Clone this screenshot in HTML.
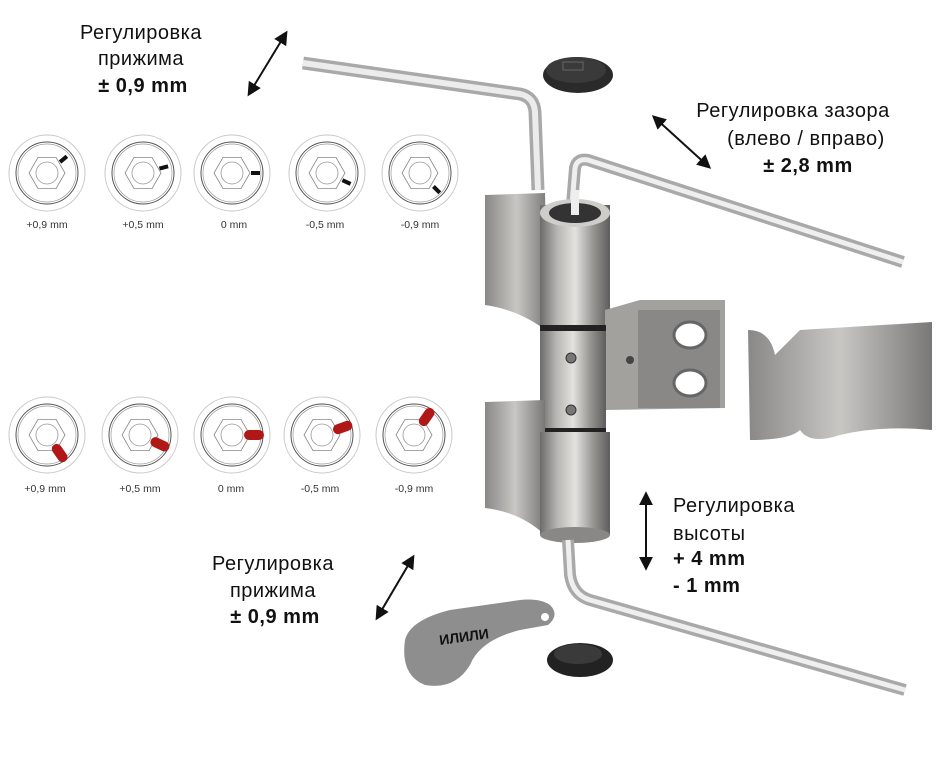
<!DOCTYPE html>
<html><head><meta charset="utf-8"><style>
html,body{margin:0;padding:0;background:#fff;width:949px;height:769px;overflow:hidden}
svg{display:block}
text{font-family:"Liberation Sans","DejaVu Sans",sans-serif;fill:#111}
.big{font-size:20px;letter-spacing:0.5px}
.b{font-weight:bold}
.sm{font-size:10.5px;fill:#333}
</style></head><body>
<svg width="949" height="769" viewBox="0 0 949 769" xmlns="http://www.w3.org/2000/svg">
<defs>
<linearGradient id="met" x1="0" x2="1" y1="0" y2="0">
<stop offset="0" stop-color="#6d6b69"/><stop offset="0.25" stop-color="#b8b6b3"/><stop offset="0.5" stop-color="#e4e2df"/><stop offset="0.75" stop-color="#9a9895"/><stop offset="1" stop-color="#5f5d5b"/>
</linearGradient>
<linearGradient id="met2" x1="0" x2="1" y1="0" y2="0">
<stop offset="0" stop-color="#8a8886"/><stop offset="0.5" stop-color="#c9c7c4"/><stop offset="1" stop-color="#7a7876"/>
</linearGradient>
<marker id="ah" viewBox="0 0 10 10" refX="8" refY="5" markerWidth="7" markerHeight="7" orient="auto-start-reverse"><path d="M0,0 L10,5 L0,10 z" fill="#111"/></marker>
<g id="dial">
<circle r="38" fill="#fff" stroke="#c8c8c8" stroke-width="1"/>
<circle r="31" fill="none" stroke="#555" stroke-width="1"/>
<circle r="29" fill="none" stroke="#999" stroke-width="0.7"/>
<polygon points="18,0 9,15.6 -9,15.6 -18,0 -9,-15.6 9,-15.6" fill="none" stroke="#888" stroke-width="0.8"/>
<circle r="11" fill="none" stroke="#999" stroke-width="0.8"/>
</g>
</defs>

<text class="big" x="141" y="39" text-anchor="middle">Регулировка</text>
<text class="big" x="141" y="65" text-anchor="middle">прижима</text>
<text class="big b" x="143" y="92" text-anchor="middle">± 0,9 mm</text>
<line x1="249" y1="94" x2="286" y2="33" stroke="#111" stroke-width="2" marker-start="url(#ah)" marker-end="url(#ah)"/>

<g transform="translate(47,173)"><use href="#dial"/><rect x="-3" y="-2" width="9" height="4" fill="#111" transform="rotate(-40) translate(20,0)"/></g>
<g transform="translate(143,173)"><use href="#dial"/><rect x="-3" y="-2" width="9" height="4" fill="#111" transform="rotate(-15) translate(20,0)"/></g>
<g transform="translate(232,173)"><use href="#dial"/><rect x="-3" y="-2" width="9" height="4" fill="#111" transform="rotate(0) translate(22,0)"/></g>
<g transform="translate(327,173)"><use href="#dial"/><rect x="-3" y="-2" width="9" height="4" fill="#111" transform="rotate(25) translate(20,0)"/></g>
<g transform="translate(420,173)"><use href="#dial"/><rect x="-3" y="-2" width="9" height="4" fill="#111" transform="rotate(45) translate(22,0)"/></g>
<text class="sm" x="47" y="228" text-anchor="middle">+0,9 mm</text>
<text class="sm" x="143" y="228" text-anchor="middle">+0,5 mm</text>
<text class="sm" x="234" y="228" text-anchor="middle">0 mm</text>
<text class="sm" x="325" y="228" text-anchor="middle">-0,5 mm</text>
<text class="sm" x="420" y="228" text-anchor="middle">-0,9 mm</text>

<g transform="translate(47,435)"><use href="#dial"/><rect x="0" y="-5" width="20" height="10" rx="5" fill="#b01818" transform="rotate(55) translate(12,0)"/></g>
<g transform="translate(140,435)"><use href="#dial"/><rect x="0" y="-5" width="20" height="10" rx="5" fill="#b01818" transform="rotate(25) translate(12,0)"/></g>
<g transform="translate(232,435)"><use href="#dial"/><rect x="0" y="-5" width="20" height="10" rx="5" fill="#b01818" transform="rotate(0) translate(12,0)"/></g>
<g transform="translate(322,435)"><use href="#dial"/><rect x="0" y="-5" width="20" height="10" rx="5" fill="#b01818" transform="rotate(-20) translate(12,0)"/></g>
<g transform="translate(414,435)"><use href="#dial"/><rect x="0" y="-5" width="20" height="10" rx="5" fill="#b01818" transform="rotate(-55) translate(12,0)"/></g>
<text class="sm" x="45" y="492" text-anchor="middle">+0,9 mm</text>
<text class="sm" x="140" y="492" text-anchor="middle">+0,5 mm</text>
<text class="sm" x="231" y="492" text-anchor="middle">0 mm</text>
<text class="sm" x="320" y="492" text-anchor="middle">-0,5 mm</text>
<text class="sm" x="414" y="492" text-anchor="middle">-0,9 mm</text>

<path d="M303,63 L520,94 Q534,97 535,112 L538,190" fill="none" stroke="#a9a9a9" stroke-width="13" stroke-linejoin="round"/>
<path d="M303,63 L520,94 Q534,97 535,112 L538,190" fill="none" stroke="#ececec" stroke-width="6" stroke-linejoin="round"/>
<ellipse cx="578" cy="75" rx="35" ry="18" fill="#2a2a2a"/>
<ellipse cx="576" cy="70" rx="30" ry="13" fill="#3a3a3a"/>
<rect x="563" y="62" width="20" height="8" fill="none" stroke="#666" stroke-width="1"/>

<path d="M572,205 L575,168 Q577,158 588,160 L903,262" fill="none" stroke="#a9a9a9" stroke-width="12" stroke-linejoin="round"/>
<path d="M572,205 L575,168 Q577,158 588,160 L903,262" fill="none" stroke="#efefef" stroke-width="5" stroke-linejoin="round"/>

<text class="big" x="793" y="117" text-anchor="middle">Регулировка зазора</text>
<text class="big" x="806" y="145" text-anchor="middle">(влево / вправо)</text>
<text class="big b" x="808" y="172" text-anchor="middle">± 2,8 mm</text>
<line x1="654" y1="117" x2="709" y2="167" stroke="#111" stroke-width="2" marker-start="url(#ah)" marker-end="url(#ah)"/>

<!-- upper leaf -->
<path d="M485,195 L545,193 L548,332 Q520,310 485,305 Z" fill="url(#met2)"/>
<rect x="540" y="205" width="70" height="125" fill="url(#met)"/>
<ellipse cx="575" cy="213" rx="35" ry="14" fill="#cfcdca"/>
<ellipse cx="575" cy="213" rx="26" ry="10" fill="#333"/>
<rect x="571" y="190" width="8" height="25" fill="#eee"/>
<path d="M605,310 L640,300 L725,300 L725,408 L605,410 Z" fill="#a3a19e"/>
<rect x="638" y="310" width="82" height="98" fill="#8a8886"/>
<ellipse cx="690" cy="335" rx="16" ry="13" fill="#fff" stroke="#666" stroke-width="3"/>
<ellipse cx="690" cy="383" rx="16" ry="13" fill="#fff" stroke="#666" stroke-width="3"/>
<circle cx="630" cy="360" r="4" fill="#444"/>
<rect x="540" y="328" width="66" height="104" fill="url(#met)"/>
<rect x="540" y="325" width="66" height="6" fill="#222"/>
<rect x="540" y="428" width="66" height="6" fill="#222"/>
<circle cx="571" cy="358" r="5" fill="#777" stroke="#333"/>
<circle cx="571" cy="410" r="5" fill="#777" stroke="#333"/>
<!-- lower leaf -->
<path d="M485,402 L545,400 L545,535 Q520,512 485,508 Z" fill="url(#met2)"/>
<rect x="540" y="432" width="70" height="103" fill="url(#met)"/>
<ellipse cx="575" cy="535" rx="35" ry="8" fill="#8a8886"/>

<path d="M748,330 Q770,330 775,355 Q785,345 800,330 L932,322 L932,430 Q880,425 840,435 Q810,445 800,430 Q790,440 750,440 Z" fill="url(#met2)"/>

<path d="M568,540 L570,575 Q573,595 590,600 L905,690" fill="none" stroke="#a9a9a9" stroke-width="12" stroke-linejoin="round"/>
<path d="M568,540 L570,575 Q573,595 590,600 L905,690" fill="none" stroke="#efefef" stroke-width="5" stroke-linejoin="round"/>

<ellipse cx="580" cy="660" rx="33" ry="17" fill="#222"/>
<ellipse cx="578" cy="654" rx="24" ry="10" fill="#3a3a3a"/>

<path d="M405,640 Q410,620 450,610 L520,600 Q540,598 550,605 Q560,615 548,625 L520,630 Q480,640 470,665 Q455,690 425,685 Q400,675 405,640 Z" fill="#8e8e8e"/>
<circle cx="545" cy="617" r="4" fill="#fff"/>
<text x="440" y="645" font-size="14" font-weight="bold" fill="#222" transform="rotate(-8 440 645)">ИЛИЛИ</text>

<text class="big" x="673" y="512">Регулировка</text>
<text class="big" x="673" y="540">высоты</text>
<text class="big b" x="673" y="565">+ 4 mm</text>
<text class="big b" x="673" y="592">- 1 mm</text>
<line x1="646" y1="494" x2="646" y2="568" stroke="#111" stroke-width="2" marker-start="url(#ah)" marker-end="url(#ah)"/>

<text class="big" x="273" y="570" text-anchor="middle">Регулировка</text>
<text class="big" x="273" y="597" text-anchor="middle">прижима</text>
<text class="big b" x="275" y="623" text-anchor="middle">± 0,9 mm</text>
<line x1="377" y1="618" x2="413" y2="557" stroke="#111" stroke-width="2" marker-start="url(#ah)" marker-end="url(#ah)"/>
</svg>
</body></html>
